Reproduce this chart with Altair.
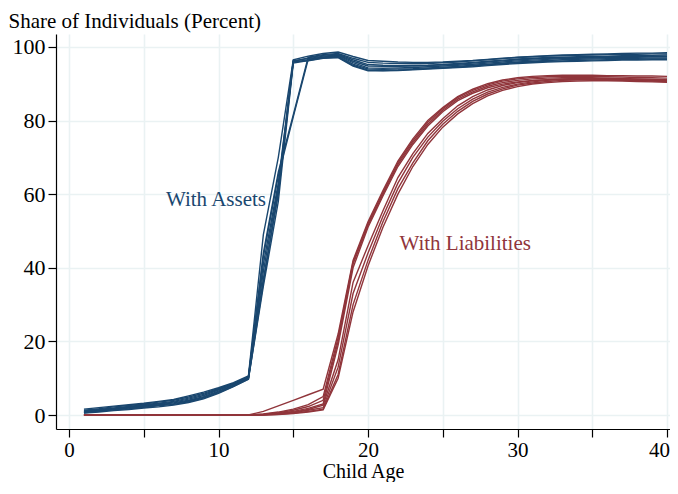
import altair as alt
import pandas as pd

ages = list(range(1, 41))

# Share with assets, by cohort (ages 1..40)
assets_c1 = [1.6, 2.0, 2.4, 2.8, 3.2, 3.7, 4.2, 5.2, 6.2, 7.4, 8.8, 10.6, 49, 70, 96.5, 97.5, 98.2, 98.6, 97.4, 96.3,
             96.1, 95.9, 95.8, 95.8, 95.9, 96.1, 96.3, 96.6, 96.9, 97.2, 97.4, 97.6, 97.8, 97.9, 98.0, 98.1, 98.2, 98.3, 98.3, 98.4]
assets_c2 = [1.3, 1.7, 2.2, 2.6, 3.0, 3.5, 4.0, 4.9, 5.9, 7.2, 8.6, 10.4, 44, 66, 81.5, 97.2, 97.9, 98.2, 96.9, 95.8,
             95.6, 95.5, 95.4, 95.5, 95.7, 95.9, 96.2, 96.5, 96.8, 97.1, 97.3, 97.5, 97.6, 97.7, 97.8, 97.9, 98.0, 98.0, 98.1, 98.1]
assets_c3 = [1.1, 1.5, 1.9, 2.3, 2.8, 3.2, 3.7, 4.6, 5.6, 7.0, 8.4, 10.2, 41, 63, 96.0, 97.0, 97.7, 98.0, 96.5, 95.2,
             95.0, 94.9, 94.9, 95.0, 95.2, 95.5, 95.8, 96.1, 96.4, 96.7, 96.9, 97.1, 97.2, 97.3, 97.4, 97.5, 97.6, 97.7, 97.7, 97.8]
assets_c4 = [0.9, 1.3, 1.7, 2.1, 2.6, 3.0, 3.5, 4.3, 5.3, 6.8, 8.3, 10.1, 39, 62, 96.3, 96.8, 97.5, 97.8, 96.1, 94.8,
             94.7, 94.7, 94.8, 94.9, 95.1, 95.3, 95.6, 95.9, 96.2, 96.5, 96.7, 96.9, 97.0, 97.1, 97.2, 97.3, 97.4, 97.4, 97.5, 97.5]
assets_c5 = [0.8, 1.2, 1.6, 2.0, 2.4, 2.8, 3.3, 4.0, 5.0, 6.5, 8.1, 10.0, 43, 65, 81.0, 96.6, 97.3, 97.6, 95.7, 94.3,
             94.2, 94.3, 94.4, 94.6, 94.8, 95.0, 95.3, 95.6, 95.9, 96.2, 96.4, 96.6, 96.8, 96.9, 97.0, 97.1, 97.2, 97.2, 97.3, 97.3]
assets_c6 = [0.7, 1.1, 1.5, 1.9, 2.3, 2.7, 3.1, 3.8, 4.8, 6.3, 8.0, 9.9, 37, 60, 95.8, 96.5, 97.2, 97.4, 95.3, 94.0,
             93.9, 94.0, 94.1, 94.3, 94.5, 94.7, 95.0, 95.3, 95.6, 95.9, 96.1, 96.3, 96.5, 96.6, 96.7, 96.8, 96.9, 96.9, 97.0, 97.0]
assets_c7 = [0.6, 1.0, 1.4, 1.7, 2.1, 2.5, 2.9, 3.6, 4.6, 6.1, 7.8, 9.8, 35, 58, 95.6, 96.3, 97.0, 97.2, 95.0, 93.7,
             93.6, 93.7, 93.9, 94.1, 94.3, 94.5, 94.8, 95.1, 95.4, 95.7, 95.9, 96.1, 96.2, 96.3, 96.4, 96.5, 96.6, 96.6, 96.7, 96.7]
assets_c8 = [0.5, 0.8, 1.2, 1.5, 1.9, 2.2, 2.7, 3.4, 4.4, 5.9, 7.7, 9.7, 36, 61, 96.1, 96.2, 96.9, 97.1, 94.8, 93.5,
             93.5, 93.6, 93.8, 94.0, 94.2, 94.4, 94.6, 94.9, 95.2, 95.5, 95.7, 95.9, 96.0, 96.1, 96.2, 96.3, 96.4, 96.4, 96.5, 96.5]

# Share with liabilities, by cohort (ages 1..40)
liab_c1 = [0, 0, 0, 0, 0, 0, 0, 0, 0, 0, 0, 0, 1.0, 2.5, 4.0, 5.5, 7.0, 22, 42, 52.5,
           61, 69, 75, 80, 83.5, 86.5, 88.5, 90, 91, 91.6, 92, 92.2, 92.3, 92.3, 92.3, 92.2, 92.2, 92.1, 92.1, 92.0]
liab_c2 = [0, 0, 0, 0, 0, 0, 0, 0, 0, 0, 0, 0, 0.3, 0.8, 1.6, 2.8, 5.0, 21, 41.5, 52,
           60.5, 68.5, 74.5, 79.5, 83.2, 86.2, 88.2, 89.7, 90.7, 91.3, 91.7, 91.9, 92.0, 92.0, 92.0, 91.9, 91.8, 91.7, 91.6, 91.5]
liab_c3 = [0, 0, 0, 0, 0, 0, 0, 0, 0, 0, 0, 0, 0.2, 0.6, 1.3, 2.3, 4.0, 20, 41, 51.5,
           60, 68, 74, 79, 82.8, 85.8, 87.8, 89.3, 90.3, 90.9, 91.3, 91.5, 91.6, 91.6, 91.6, 91.5, 91.4, 91.3, 91.2, 91.1]
liab_c4 = [0, 0, 0, 0, 0, 0, 0, 0, 0, 0, 0, 0, 0.1, 0.4, 1.0, 1.8, 3.0, 19, 40, 51,
           59.5, 67.5, 73.5, 78.5, 82.4, 85.4, 87.4, 88.9, 89.9, 90.5, 90.9, 91.1, 91.2, 91.2, 91.2, 91.1, 91.0, 90.9, 90.8, 90.7]
liab_c5 = [0, 0, 0, 0, 0, 0, 0, 0, 0, 0, 0, 0, 0.1, 0.3, 0.8, 1.5, 2.7, 15, 36, 46,
           55.5, 64.5, 71, 76.5, 80.5, 84, 86.5, 88.3, 89.5, 90.3, 90.8, 91.1, 91.3, 91.4, 91.4, 91.4, 91.3, 91.2, 91.1, 91.0]
liab_c6 = [0, 0, 0, 0, 0, 0, 0, 0, 0, 0, 0, 0, 0.1, 0.3, 0.7, 1.3, 2.0, 13, 33, 44,
           54, 63, 70, 75.5, 79.8, 83.2, 85.8, 87.7, 89.0, 89.9, 90.5, 90.9, 91.1, 91.2, 91.2, 91.2, 91.1, 91.0, 90.9, 90.8]
liab_c7 = [0, 0, 0, 0, 0, 0, 0, 0, 0, 0, 0, 0, 0.0, 0.2, 0.5, 1.0, 1.6, 11, 30, 42,
           52.5, 61.5, 68.5, 74.5, 79, 82.5, 85.2, 87.2, 88.6, 89.6, 90.2, 90.6, 90.9, 91.0, 91.0, 91.0, 90.9, 90.8, 90.7, 90.6]
liab_c8 = [0, 0, 0, 0, 0, 0, 0, 0, 0, 0, 0, 0, 0.0, 0.1, 0.4, 0.8, 1.4, 10, 28, 40.5,
           51, 60, 67.5, 73.5, 78.2, 81.8, 84.6, 86.7, 88.2, 89.2, 89.9, 90.3, 90.6, 90.7, 90.8, 90.8, 90.7, 90.6, 90.5, 90.4]

x_ticks = [0, 5, 10, 15, 20, 25, 30, 35, 40]
y_ticks = [0, 20, 40, 60, 80, 100]

labels_text = ["With Assets", "With Liabilities"]
labels_age = [9.83, 26.5]
labels_val = [56.8, 44.8]

BLUE = "#1a476f"
RED = "#90353b"
FONT = "Liberation Serif"

assets = [assets_c1, assets_c2, assets_c3, assets_c4, assets_c5, assets_c6, assets_c7, assets_c8]
liabs = [liab_c1, liab_c2, liab_c3, liab_c4, liab_c5, liab_c6, liab_c7, liab_c8]

rows = []
for i, s in enumerate(assets):
    for a, v in zip(ages, s):
        rows.append({"age": a, "value": v, "cohort": f"a{i}", "series": "assets"})
for i, s in enumerate(liabs):
    for a, v in zip(ages, s):
        rows.append({"age": a, "value": v, "cohort": f"l{i}", "series": "liab"})
df = pd.DataFrame(rows)

xenc = alt.X("age:Q",
             scale=alt.Scale(domain=[-0.87, 40.2], nice=False, zero=False),
             axis=alt.Axis(values=x_ticks, title="Child Age",
                           labelExpr="datum.value % 10 === 0 ? datum.label : ''",
                           labelOffset={"condition": {"test": "datum.value === 40", "value": -8}, "value": 0},
                           tickSize=8, labelPadding=2, labelFontSize=21,
                           titleFontSize=20, titleBaseline="alphabetic", titleY=48))
yenc = alt.Y("value:Q",
             scale=alt.Scale(domain=[-3.8, 103.5], nice=False, zero=False),
             axis=alt.Axis(values=y_ticks, title="Share of Individuals (Percent)",
                           titleAngle=0, titleAlign="left", titleBaseline="alphabetic",
                           titleX=-48, titleY=-7, tickSize=8, labelPadding=3))

assets_line = alt.Chart(df).transform_filter(alt.datum.series == "assets").mark_line(
    color=BLUE, strokeWidth=1.4).encode(x=xenc, y=yenc, detail="cohort:N")
liab_line = alt.Chart(df).transform_filter(alt.datum.series == "liab").mark_line(
    color=RED, strokeWidth=1.4).encode(x=xenc, y=yenc, detail="cohort:N")

lab_df = pd.DataFrame({"text": labels_text, "age": labels_age, "value": labels_val,
                       "series": ["assets", "liab"]})
labels = alt.Chart(lab_df).mark_text(font=FONT, fontSize=21, align="center", baseline="alphabetic").encode(
    x="age:Q", y="value:Q", text="text:N",
    color=alt.Color("series:N", scale=alt.Scale(domain=["assets", "liab"], range=[BLUE, RED]), legend=None))

chart = alt.layer(assets_line, liab_line, labels).properties(
    width=614, height=395,
    autosize=alt.AutoSizeParams(type="none"),
    padding={"left": 48, "top": 26, "right": 0, "bottom": 53},
    background="white",
).configure_view(stroke=None).configure_axis(
    domainColor="black", domainWidth=1.2, tickColor="black", tickWidth=1.2,
    labelFont=FONT, labelFontSize=22, labelColor="black",
    titleFont=FONT, titleFontSize=21, titleFontWeight="normal", titleColor="black",
    grid=True, gridColor="#eaf2f3", gridWidth=1.6,
)

chart.save("out.html", embed_options={"renderer": "svg", "actions": False})
